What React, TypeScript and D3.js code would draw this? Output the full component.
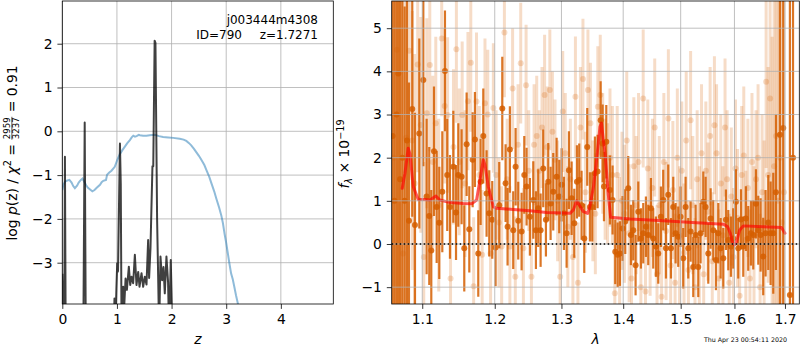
import { useEffect, useRef } from "react";
import * as d3 from "d3";

const W = 800;
const H = 350;
const FONT = "DejaVu Sans, sans-serif";

// ---- left panel: log p(z) ----
const zTicks = [0, 1, 2, 3, 4];
const pzTicks = [-3, -2, -1, 0, 1, 2];

// smooth (blue) curve
const chiCurve: [number, number][] = [
  [0.0, -1.34], [0.02, -1.22], [0.05, -1.15], [0.08, -1.13], [0.13, -1.11], [0.17, -1.17],
  [0.2, -1.25], [0.23, -1.3], [0.27, -1.24], [0.3, -1.17], [0.34, -1.11], [0.37, -1.08],
  [0.41, -1.17], [0.44, -1.24], [0.47, -1.29], [0.52, -1.34], [0.55, -1.37], [0.59, -1.34],
  [0.63, -1.29], [0.69, -1.22], [0.72, -1.16], [0.75, -1.13], [0.8, -1.11], [0.82, -0.99],
  [0.86, -0.94], [0.9, -0.9], [0.96, -0.81], [1.005, -0.66], [1.05, -0.53], [1.1, -0.43],
  [1.145, -0.35], [1.19, -0.27], [1.237, -0.2], [1.27, -0.14], [1.3, -0.1], [1.33, -0.12],
  [1.36, -0.11], [1.4, -0.08], [1.42, -0.09], [1.48, -0.1], [1.54, -0.1], [1.6, -0.09],
  [1.69, -0.08], [1.77, -0.11], [1.845, -0.13], [1.94, -0.14], [2.03, -0.15], [2.15, -0.17],
  [2.22, -0.19], [2.27, -0.22], [2.32, -0.27], [2.36, -0.32], [2.41, -0.4], [2.455, -0.48],
  [2.5, -0.56], [2.55, -0.66], [2.6, -0.77], [2.64, -0.89], [2.69, -1.04], [2.73, -1.19],
  [2.78, -1.37], [2.82, -1.54], [2.87, -1.74], [2.91, -1.92], [2.94, -2.1], [2.97, -2.34],
  [3.0, -2.55], [3.03, -2.79], [3.06, -3.03], [3.09, -3.25], [3.12, -3.38], [3.15, -3.56],
  [3.18, -3.75], [3.215, -3.94], [3.25, -4.2],
];

// spiky (black) p(z)
const pzCurve: [number, number][] = [
  [0.0, -3.25], [0.015, -4.6], [0.035, -4.6], [0.048, -0.58], [0.062, -4.6], [0.385, -4.6],
  [0.41, 0.2], [0.43, -4.6], [0.94, -4.6], [0.955, -3.82], [0.975, -4.3], [0.99, -3.6],
  [1.005, -3.01], [1.02, -3.2], [1.04, -1.5], [1.055, -0.28], [1.07, -1.2], [1.085, -4.6],
  [1.115, -3.55], [1.133, -4.0], [1.158, -3.36], [1.182, -3.62], [1.218, -3.09], [1.243, -3.51],
  [1.267, -3.32], [1.297, -3.47], [1.328, -2.82], [1.358, -3.51], [1.389, -3.21], [1.413, -3.55],
  [1.45, -3.24], [1.48, -3.55], [1.51, -3.32], [1.541, -3.5], [1.571, -2.48], [1.589, -3.35],
  [1.614, -2.67], [1.632, -1.72], [1.65, -0.8], [1.665, -0.8], [1.69, 2.07], [1.705, 2.02],
  [1.735, -2.0], [1.754, -3.29], [1.772, -4.6], [1.797, -2.86], [1.827, -3.4], [1.852, -3.1],
  [1.876, -3.7], [1.906, -2.86], [1.936, -3.45], [1.955, -4.6], [1.985, -2.94], [2.016, -4.6],
  [2.05, -6],
];

// ---- right panel: spectrum ----
const waveTicks = [1.1, 1.2, 1.3, 1.4, 1.5, 1.6, 1.7];
const fluxTicks = [-1, 0, 1, 2, 3, 4, 5];

// individual beam spectrum [wave, flux, err]
const beamSpec: [number, number, number][] = [
  [1.063, 2.0, 8], [1.067, 4.5, 8], [1.071, 1.5, 6], [1.075, -0.22, 6], [1.079, 2.46, 5],
  [1.083, 4.48, 3], [1.087, 2.4, 3], [1.09, 1.4, 3], [1.094, 4.16, 2.5], [1.098, 2.76, 2.5],
  [1.102, -0.3, 2.2], [1.106, 3.03, 2.2], [1.11, 4.15, 2], [1.114, 1.9, 2], [1.118, 2.8, 2],
  [1.122, 0.9, 2], [1.126, 4.76, 1.8], [1.13, 3.2, 1.8], [1.134, 2.99, 1.8], [1.138, -0.8, 1.8],
  [1.142, 2.25, 1.8], [1.146, 4.51, 1.7], [1.15, 1.9, 1.7], [1.154, 2.99, 1.7], [1.158, 1.4, 1.7],
  [1.162, 3.31, 1.6], [1.166, 4.2, 1.6], [1.17, -0.98, 1.6], [1.174, 3.3, 1.6], [1.178, 1.6, 1.6],
  [1.182, -0.25, 1.5], [1.186, 3.26, 1.5], [1.19, 3.0, 1.5], [1.194, -0.22, 1.5], [1.198, 3.15, 1.5],
  [1.202, 1.6, 1.5], [1.206, 0.5, 1.5], [1.21, -0.06, 1.4], [1.214, 4.9, 1.5], [1.218, 1.5, 1.4],
  [1.222, -0.06, 1.4], [1.226, 3.6, 1.4], [1.23, -0.76, 1.4], [1.234, 2.3, 1.4], [1.238, 4.19, 1.4],
  [1.242, -0.1, 1.4], [1.246, 3.68, 1.4], [1.25, 1.7, 1.4], [1.254, -0.76, 1.4], [1.258, 2.3, 1.4],
  [1.262, 2.5, 1.4], [1.266, 1.7, 1.4], [1.27, 2.7, 1.4], [1.274, 3.45, 1.4], [1.278, 2.25, 1.4],
  [1.282, 3.57, 1.4], [1.286, 2.6, 1.4], [1.29, 1.95, 1.4], [1.294, 1.0, 1.4], [1.298, -0.76, 1.4],
  [1.302, 3.07, 1.4], [1.306, 2.1, 1.4], [1.31, 0.4, 1.4], [1.314, 1.5, 1.4], [1.318, -0.3, 1.4],
  [1.322, 3.41, 1.4], [1.326, -0.9, 1.4], [1.33, 2.7, 1.4], [1.334, 3.82, 1.4], [1.338, 1.2, 1.4],
  [1.342, 3.57, 1.4], [1.346, 2.8, 1.4], [1.35, 1.0, 1.4], [1.354, 0.7, 1.4], [1.358, 3.18, 1.4],
  [1.362, 3.45, 1.4], [1.366, 2.1, 1.4], [1.37, 1.5, 1.4], [1.374, 1.4, 1.4], [1.378, 2.0, 1.6],
  [1.382, 1.6, 1.6], [1.386, -1.14, 1.6], [1.39, 1.6, 1.6], [1.394, -0.05, 1.6], [1.398, 1.0, 1.6],
  [1.402, 0.7, 1.6], [1.406, 2.4, 1.6], [1.41, 0.25, 1.6], [1.414, -0.8, 1.6], [1.418, 1.8, 1.6],
  [1.422, 0.9, 1.6], [1.426, 1.9, 1.6], [1.43, -1.0, 1.6], [1.434, 3.37, 1.6], [1.438, -1.1, 1.6],
  [1.442, 1.75, 1.6], [1.446, 0.4, 1.6], [1.45, 1.3, 1.6], [1.454, 2.7, 1.6], [1.458, -0.7, 1.6],
  [1.462, 0.9, 1.6], [1.466, -1.22, 1.6], [1.47, 1.9, 1.6], [1.474, 0.3, 1.6], [1.478, 2.91, 1.6],
  [1.482, -0.5, 1.6], [1.486, 1.25, 1.6], [1.49, -0.9, 1.6], [1.494, 2.0, 1.6], [1.498, 0.2, 1.6],
  [1.502, 1.7, 1.6], [1.506, -0.2, 1.6], [1.51, 2.4, 1.6], [1.514, -0.6, 1.6], [1.518, 2.87, 1.6],
  [1.522, 0.9, 1.6], [1.526, -1.0, 1.6], [1.53, 1.5, 1.6], [1.534, 0.2, 1.6], [1.538, 2.1, 1.6],
  [1.542, -0.7, 1.6], [1.546, 1.7, 1.6], [1.55, 0.75, 1.6], [1.554, 2.5, 1.6], [1.558, -0.4, 1.6],
  [1.562, 2.75, 1.6], [1.566, 2.1, 1.6], [1.57, -0.8, 1.6], [1.574, 1.4, 1.6], [1.578, 0.2, 1.6],
  [1.582, 2.7, 1.6], [1.586, 1.5, 1.6], [1.59, -0.9, 1.6], [1.594, 1.1, 1.6], [1.598, -0.3, 1.6],
  [1.602, 1.75, 1.6], [1.606, 0.6, 1.6], [1.61, -1.2, 1.6], [1.614, 1.6, 1.6], [1.618, 2.05, 1.6],
  [1.622, 0.1, 1.6], [1.626, 1.3, 1.6], [1.63, -0.8, 1.6], [1.634, 1.9, 1.6], [1.638, 0.2, 1.6],
  [1.642, 1.5, 1.6], [1.646, 2.0, 1.7], [1.65, -1.0, 1.7], [1.654, 1.2, 1.8], [1.658, 0.5, 1.9],
  [1.662, 3.76, 2.0], [1.666, 1.6, 2.5], [1.67, 3.37, 3.5], [1.674, 0.3, 4.5], [1.678, 1.8, 5],
  [1.682, 2.5, 6], [1.686, 1.0, 6], [1.69, 2.0, 7], [1.694, 0.5, 7], [1.698, 1.2, 8],
];

// combined spectrum [wave, flux, err]
const combSpec: [number, number, number][] = [
  [1.0615, 2.5, 8], [1.064, 1.0, 8], [1.0665, 3.0, 7], [1.0688, 3.95, 6], [1.0712, 1.5, 6],
  [1.074, 2.0, 5], [1.077, 1.0, 4.5], [1.08, 2.4, 4], [1.0826, 0.54, 3.2], [1.0869, 3.13, 2.5],
  [1.0904, 0.44, 2.6], [1.0961, 2.56, 2.2], [1.1014, 3.8, 2.0], [1.1058, 1.1, 1.8], [1.1093, 0.65, 1.6],
  [1.112, -0.15, 1.4], [1.1156, 2.15, 1.5], [1.1192, 0.86, 1.3], [1.1227, 0.49, 1.3], [1.1268, 1.21, 1.4],
  [1.1304, 4.01, 1.4], [1.1335, 1.6, 1.3], [1.1372, 0.86, 1.2], [1.1418, 1.79, 1.3], [1.1455, 0.73, 1.1],
  [1.1486, 1.6, 1.2], [1.1532, 1.56, 1.1], [1.1569, -0.1, 1.0], [1.1602, 2.31, 1.2], [1.1639, 0.34, 1.0],
  [1.1686, 1.95, 1.1], [1.1718, 2.42, 1.1], [1.1765, -0.22, 1.0], [1.1798, 1.44, 1.0], [1.1836, 2.5, 1.1],
  [1.1883, 1.17, 1.0], [1.1921, 0.71, 1.0], [1.1964, 0.56, 0.9], [1.2012, -0.08, 0.9], [1.2065, 0.9, 1.0],
  [1.2109, 3.14, 1.2], [1.2157, 1.41, 0.9], [1.2186, 0.4, 0.9], [1.222, 2.19, 1.0], [1.2269, 0.32, 0.9],
  [1.2304, 1.79, 0.9], [1.2343, 0.54, 0.9], [1.2393, 0.29, 0.9], [1.2433, 1.6, 0.9], [1.2467, 1.33, 0.9],
  [1.2517, 0.63, 0.9], [1.2568, 1.02, 0.9], [1.2608, 0.32, 0.9], [1.2643, 0.83, 0.9], [1.2679, 0.32, 0.85],
  [1.2719, 1.75, 0.9], [1.276, 0.56, 0.85], [1.2796, 1.44, 0.9], [1.2832, 0.94, 0.85], [1.2873, 1.21, 0.9],
  [1.2925, 1.56, 0.9], [1.2966, 1.1, 0.85], [1.3003, 1.37, 0.85], [1.3039, 0.71, 0.85], [1.3081, 0.25, 0.8],
  [1.3117, 1.71, 0.9], [1.316, 1.06, 0.85], [1.3202, 0.48, 0.8], [1.3244, 1.44, 0.85], [1.328, 1.48, 0.85],
  [1.3318, 0.9, 0.8], [1.3361, 0.13, 0.8], [1.3409, 2.25, 0.9], [1.3452, 0.86, 0.8], [1.349, 0.86, 0.8],
  [1.3533, 1.64, 0.85], [1.3576, 1.68, 0.85], [1.3626, 2.87, 0.9], [1.3659, 2.33, 0.9], [1.3681, 1.33, 0.8],
  [1.3719, 2.37, 0.85], [1.3779, 1.25, 0.8], [1.3823, 1.02, 0.8], [1.3867, -0.18, 0.75], [1.3907, -0.25, 0.75],
  [1.3946, -0.22, 0.75], [1.399, 0.36, 0.75], [1.4035, 0.52, 0.75], [1.4085, 1.29, 0.75], [1.413, 0.21, 0.7],
  [1.417, 0.32, 0.7], [1.421, -0.49, 0.7], [1.4256, 0.75, 0.7], [1.4301, 0.13, 0.7], [1.4341, 0.25, 0.7],
  [1.4387, 0.4, 0.7], [1.4427, 0.21, 0.7], [1.4474, 0.83, 0.7], [1.4514, 0.13, 0.7], [1.4561, -0.06, 0.7],
  [1.4602, -0.22, 0.7], [1.4648, 0.63, 0.7], [1.4689, 1.02, 0.7], [1.4737, -0.1, 0.7], [1.4778, 1.14, 0.7],
  [1.4826, -0.1, 0.7], [1.4867, 0.86, 0.7], [1.4909, 0.25, 0.7], [1.4956, 0.17, 0.7], [1.4998, 0.63, 0.7],
  [1.5046, -0.33, 0.7], [1.5089, 0.86, 0.7], [1.5137, -0.1, 0.7], [1.518, 0.29, 0.7], [1.5228, -0.53, 0.7],
  [1.5271, 0.21, 0.7], [1.532, -0.53, 0.7], [1.5363, 0.25, 0.7], [1.5413, 0.98, 0.7], [1.5456, 0.86, 0.7],
  [1.5505, -0.22, 0.7], [1.5549, 0.59, 0.7], [1.5598, 0.32, 0.7], [1.5648, -0.37, 0.7], [1.5693, 0.25, 0.7],
  [1.5737, -0.1, 0.7], [1.5787, -0.33, 0.7], [1.5837, 0.56, 0.7], [1.5882, 0.09, 0.7], [1.5932, -0.06, 0.7],
  [1.5977, 0.13, 0.7], [1.6028, 0.98, 0.75], [1.6073, -0.1, 0.7], [1.6125, 0.57, 0.7], [1.617, -0.06, 0.7],
  [1.6221, 0.59, 0.75], [1.6267, 0.13, 0.75], [1.6319, 0.25, 0.75], [1.6365, 0.21, 0.8], [1.6418, 0.93, 0.8],
  [1.6464, 0.32, 0.8], [1.651, 0.21, 0.85], [1.6562, -0.29, 0.9], [1.6609, 0.25, 1.0], [1.6663, 0.5, 1.1],
  [1.671, 0.25, 1.2], [1.6763, 0.25, 1.4], [1.6817, 1.2, 1.8], [1.6897, 2.53, 6], [1.6965, 2.69, 6],
  [1.7101, -1.18, 8], [1.7165, 2.0, 8],
];

// best-fit model [wave, flux]
const model: [number, number][] = [
  [1.0739, 1.29], [1.0774, 1.64], [1.0816, 2.22], [1.0838, 2.1], [1.0882, 1.33], [1.0947, 1.03],
  [1.1035, 1.03], [1.1101, 1.02], [1.1182, 1.11], [1.1235, 1.02], [1.1349, 0.97], [1.1554, 0.94],
  [1.1671, 0.93], [1.1741, 1.02], [1.1789, 1.48], [1.1836, 1.95], [1.186, 1.83], [1.1907, 1.33],
  [1.198, 0.86], [1.2026, 0.83], [1.2269, 0.8], [1.2517, 0.77], [1.277, 0.73], [1.3134, 0.71],
  [1.3187, 0.79], [1.324, 1.0], [1.329, 0.88], [1.3346, 0.75], [1.3415, 0.71], [1.345, 0.86],
  [1.351, 1.33], [1.356, 1.95], [1.3615, 2.72], [1.364, 2.8], [1.367, 2.41], [1.37, 2.1],
  [1.375, 1.17], [1.379, 0.62], [1.4115, 0.58], [1.469, 0.54], [1.529, 0.49], [1.579, 0.46],
  [1.587, 0.4], [1.592, 0.25], [1.596, 0.05], [1.6, -0.02], [1.604, 0.05], [1.61, 0.32],
  [1.617, 0.42], [1.657, 0.4], [1.693, 0.38], [1.7, 0.25],
];

const ORANGE = "#d55e00";
const GRID = "#b0b0b0";

type Piece = { text?: string; italic?: boolean; size?: number; dy?: number; frac?: [string, string] };

function mathLabel(parent: d3.Selection<SVGGElement, unknown, null, undefined>, pieces: Piece[]) {
  const g = parent.append("g");
  let x = 0;
  for (const p of pieces) {
    if (p.frac) {
      const fs = 8.6;
      const num = g.append("text").attr("y", -6.8).attr("font-size", fs).text(p.frac[0]);
      const den = g.append("text").attr("y", 2.6).attr("font-size", fs).text(p.frac[1]);
      const wn = (num.node() as SVGTextElement).getComputedTextLength();
      const wd = (den.node() as SVGTextElement).getComputedTextLength();
      const w = Math.max(wn, wd) + 1;
      num.attr("x", x + (w - wn) / 2);
      den.attr("x", x + (w - wd) / 2);
      g.append("line").attr("x1", x).attr("x2", x + w).attr("y1", -4.6).attr("y2", -4.6)
        .attr("stroke", "black").attr("stroke-width", 0.7);
      x += w;
    } else {
      const t = g.append("text")
        .attr("x", x)
        .attr("y", p.dy ?? 0)
        .attr("font-size", p.size ?? 13.9)
        .attr("font-style", p.italic ? "italic" : null)
        .style("white-space", "pre")
        .text(p.text ?? "");
      x += (t.node() as SVGTextElement).getComputedTextLength();
    }
  }
  g.attr("transform", `translate(${-x / 2},0)`);
}

function styleAxis(s: d3.Selection<SVGGElement, unknown, null, undefined>) {
  s.select(".domain").remove();
  s.selectAll(".tick line").attr("stroke", "black").attr("stroke-width", 0.8);
  s.selectAll(".tick text").attr("fill", "black").attr("font-size", 13.9).attr("font-family", FONT);
}

export default function App() {
  const ref = useRef<SVGSVGElement>(null);

  useEffect(() => {
    if (!ref.current) return;
    const svg = d3.select(ref.current);
    svg.selectAll("*").remove();
    svg.attr("font-family", FONT);
    svg.append("rect").attr("width", W).attr("height", H).attr("fill", "white");
    const defs = svg.append("defs");

    // ================= left panel =================
    const L = { x0: 62.3, x1: 333.3, y0: 1, y1: 304 };
    const xz = d3.scaleLinear().domain([0, 4.96]).range([L.x0, L.x1]);
    const yp = d3.scaleLinear().domain([-3.943, 2.975]).range([L.y1, L.y0]);

    defs.append("clipPath").attr("id", "clipL").append("rect")
      .attr("x", L.x0).attr("y", L.y0).attr("width", L.x1 - L.x0).attr("height", L.y1 - L.y0);

    const gl = svg.append("g");
    gl.append("g").selectAll("line").data(zTicks).enter().append("line")
      .attr("x1", (d) => xz(d)).attr("x2", (d) => xz(d)).attr("y1", L.y0).attr("y2", L.y1)
      .attr("stroke", GRID).attr("stroke-width", 0.8);
    gl.append("g").selectAll("line").data(pzTicks).enter().append("line")
      .attr("y1", (d) => yp(d)).attr("y2", (d) => yp(d)).attr("x1", L.x0).attr("x2", L.x1)
      .attr("stroke", GRID).attr("stroke-width", 0.8);

    const lineL = d3.line<[number, number]>().x((d) => xz(d[0])).y((d) => yp(d[1]));
    const cl = gl.append("g").attr("clip-path", "url(#clipL)");
    cl.append("path").datum(chiCurve).attr("d", lineL).attr("fill", "none")
      .attr("stroke", "#1f77b4").attr("stroke-opacity", 0.5).attr("stroke-width", 2);
    cl.append("path").datum(pzCurve).attr("d", lineL).attr("fill", "none")
      .attr("stroke", "black").attr("stroke-opacity", 0.75).attr("stroke-width", 2)
      .attr("stroke-linejoin", "round");

    gl.append("g").attr("transform", `translate(0,${L.y1})`)
      .call(d3.axisBottom(xz).tickValues(zTicks).tickFormat(d3.format("d")).tickSize(4.9).tickPadding(4.9))
      .call(styleAxis);
    gl.append("g").attr("transform", `translate(${L.x0},0)`)
      .call(d3.axisLeft(yp).tickValues(pzTicks).tickFormat(d3.format("d")).tickSize(4.9).tickPadding(4.9))
      .call(styleAxis);
    gl.append("rect").attr("x", L.x0).attr("y", L.y0).attr("width", L.x1 - L.x0).attr("height", L.y1 - L.y0)
      .attr("fill", "none").attr("stroke", "black").attr("stroke-width", 0.8);

    gl.append("text").attr("x", 318).attr("y", 24).attr("text-anchor", "end").attr("font-size", 12)
      .text("j003444m4308");
    gl.append("text").attr("x", 242).attr("y", 39).attr("text-anchor", "end").attr("font-size", 12)
      .text("ID=790");
    gl.append("text").attr("x", 318).attr("y", 39).attr("text-anchor", "end").attr("font-size", 12)
      .text("z=1.7271");

    gl.append("text").attr("x", (L.x0 + L.x1) / 2).attr("y", 344).attr("text-anchor", "middle")
      .attr("font-size", 13.9).attr("font-style", "italic").text("z");

    const ylabL = svg.append("g").attr("transform", `translate(16.5,153) rotate(-90)`);
    mathLabel(ylabL, [
      { text: "log " },
      { text: "p", italic: true },
      { text: "(z) / " },
      { text: "χ", italic: true },
      { text: "2", size: 9.7, dy: -5.5 },
      { text: " = " },
      { frac: ["2959", "3237"] },
      { text: " = 0.91" },
    ]);

    // ================= right panel =================
    const R = { x0: 391.7, x1: 799.3, y0: 1, y1: 304 };
    const xw = d3.scaleLog().domain([1.0604, 1.7295]).range([R.x0, R.x1]);
    const yf = d3.scaleLinear().domain([-1.39, 5.63]).range([R.y1, R.y0]);

    defs.append("clipPath").attr("id", "clipR").append("rect")
      .attr("x", R.x0).attr("y", R.y0).attr("width", R.x1 - R.x0).attr("height", R.y1 - R.y0);

    const gr = svg.append("g");
    const cr = gr.append("g").attr("clip-path", "url(#clipR)");

    // beam spectrum (faint)
    const gb = cr.append("g");
    gb.selectAll("line").data(beamSpec).enter().append("line")
      .attr("x1", (d) => xw(d[0])).attr("x2", (d) => xw(d[0]))
      .attr("y1", (d) => yf(d[1] - d[2])).attr("y2", (d) => yf(d[1] + d[2]))
      .attr("stroke", ORANGE).attr("stroke-opacity", 0.22).attr("stroke-width", 3);
    gb.selectAll("circle").data(beamSpec).enter().append("circle")
      .attr("cx", (d) => xw(d[0])).attr("cy", (d) => yf(d[1])).attr("r", 3)
      .attr("fill", ORANGE).attr("fill-opacity", 0.22);

    // combined spectrum
    const gc = cr.append("g");
    gc.selectAll("line").data(combSpec).enter().append("line")
      .attr("x1", (d) => xw(d[0])).attr("x2", (d) => xw(d[0]))
      .attr("y1", (d) => yf(d[1] - d[2])).attr("y2", (d) => yf(d[1] + d[2]))
      .attr("stroke", ORANGE).attr("stroke-opacity", 0.85).attr("stroke-width", 2.2);
    gc.selectAll("circle").data(combSpec).enter().append("circle")
      .attr("cx", (d) => xw(d[0])).attr("cy", (d) => yf(d[1])).attr("r", 3)
      .attr("fill", ORANGE).attr("fill-opacity", 0.85);

    // grid above the data
    gr.append("g").selectAll("line").data(waveTicks).enter().append("line")
      .attr("x1", (d) => xw(d)).attr("x2", (d) => xw(d)).attr("y1", R.y0).attr("y2", R.y1)
      .attr("stroke", GRID).attr("stroke-width", 0.8);
    gr.append("g").selectAll("line").data(fluxTicks).enter().append("line")
      .attr("y1", (d) => yf(d)).attr("y2", (d) => yf(d)).attr("x1", R.x0).attr("x2", R.x1)
      .attr("stroke", GRID).attr("stroke-width", 0.8);

    const lineR = d3.line<[number, number]>().x((d) => xw(d[0])).y((d) => yf(d[1]));
    cr.append("path").datum(model).attr("d", lineR).attr("fill", "none")
      .attr("stroke", "red").attr("stroke-opacity", 0.65).attr("stroke-width", 3)
      .attr("stroke-linejoin", "round").attr("stroke-linecap", "round");

    gr.append("line").attr("x1", R.x0).attr("x2", R.x1).attr("y1", yf(0)).attr("y2", yf(0))
      .attr("stroke", "black").attr("stroke-width", 1.5).attr("stroke-dasharray", "1.5,2.5");

    gr.append("g").attr("transform", `translate(0,${R.y1})`)
      .call(d3.axisBottom(xw).tickValues(waveTicks).tickFormat((d) => d3.format(".1f")(d as number)).tickSize(4.9).tickPadding(4.9))
      .call(styleAxis);
    gr.append("g").attr("transform", `translate(${R.x0},0)`)
      .call(d3.axisLeft(yf).tickValues(fluxTicks).tickFormat(d3.format("d")).tickSize(4.9).tickPadding(4.9))
      .call(styleAxis);
    gr.append("rect").attr("x", R.x0).attr("y", R.y0).attr("width", R.x1 - R.x0).attr("height", R.y1 - R.y0)
      .attr("fill", "none").attr("stroke", "black").attr("stroke-width", 0.8);

    gr.append("text").attr("x", xw(Math.sqrt(1.0604 * 1.7295))).attr("y", 344).attr("text-anchor", "middle")
      .attr("font-size", 13.9).attr("font-style", "italic").text("λ");

    const ylabR = svg.append("g").attr("transform", `translate(349,154) rotate(-90)`);
    mathLabel(ylabR, [
      { text: "f", italic: true },
      { text: "λ", italic: true, size: 9.7, dy: 3 },
      { text: " × 10" },
      { text: "−19", size: 9.7, dy: -5.5 },
    ]);

    svg.append("text").attr("x", 787).attr("y", 342).attr("text-anchor", "end").attr("font-size", 6.3)
      .text("Thu Apr 23 00:54:11 2020");
  }, []);

  return (
    <div style={{ position: "absolute", left: 0, top: 0 }}>
      <svg ref={ref} width={W} height={H} style={{ display: "block" }} />
    </div>
  );
}
